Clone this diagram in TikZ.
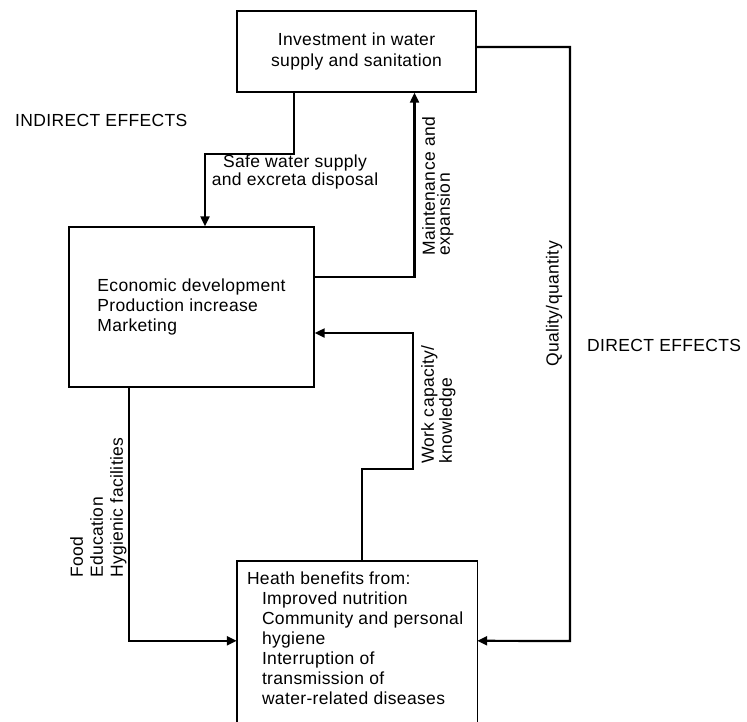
\documentclass[tikz,border=0pt]{standalone}
\usepackage{fontspec}
\setmainfont{Liberation Sans}[LetterSpace=2]
\usetikzlibrary{arrows.meta}
\newcommand{\txt}[1]{\fontsize{17.5}{#1}\selectfont}
\begin{document}
\begin{tikzpicture}[x=1pt,y=-1pt,
  every node/.style={inner sep=0pt, font=\txt{20}},
  box/.style={draw, line width=1.4pt},
  frame/.style={line width=1.4pt},
  link/.style={line width=2.2pt},
  arr/.style={link, -{Triangle[length=10pt,width=9pt]}}
]
\clip (0,0) rectangle (747,721);

% boxes
\node[box, minimum width=239pt, minimum height=81pt, align=center, font=\txt{21}]
  (invest) at (356.5,51.5) {Investment in water\\supply and sanitation};
\node[box, minimum width=245pt, minimum height=160pt, align=left]
  (econ) at (191.5,307) {Economic development\\Production increase\\Marketing};
\node[minimum width=240pt, minimum height=180pt] (health) at (357,651) {};
\draw[frame] (health.south west) -- (health.north west) -- (health.north east) -- (health.south east);
\node[anchor=north west, align=left] (healthtext) at ([xshift=10pt,yshift=-11pt]health.north west)
  {Heath benefits from:\\
   \hspace*{15pt}Improved nutrition\\
   \hspace*{15pt}Community and personal\\
   \hspace*{15pt}hygiene\\
   \hspace*{15pt}Interruption of\\
   \hspace*{15pt}transmission of\\
   \hspace*{15pt}water-related diseases};

% bend points
\coordinate (wk) at (413,469);
\coordinate (qq) at (570,641);

% connectors
\draw[arr] ([xshift=-62.5pt]invest.south) -- ++(0,61) -| ([xshift=13.5pt]econ.north);
\draw[arr] ([yshift=30pt]econ.east) -| ([xshift=58pt]invest.south);
\draw[arr] ([xshift=5pt]health.north) |- (wk) |- ([yshift=-26pt]econ.east);
\draw[arr] ([xshift=-62.5pt]econ.south) |- ([yshift=-80pt]health.north west);
\draw[arr] ([yshift=4.5pt]invest.east) -| (qq) -- ([yshift=-80pt]health.north east);

% labels
\node[anchor=west] (indirect) at (15,120) {INDIRECT EFFECTS};
\node[anchor=west] (direct) at (587,345) {DIRECT EFFECTS};
\node[align=center, font=\txt{16}] (safe) at (295,172) {Safe water supply\\and excreta disposal};
\node[rotate=90, anchor=north west, align=left, font=\txt{15}] (maint) at (422,256)
  {Maintenance and\\expansion};
\node[rotate=90, anchor=north west, align=left, font=\txt{18}] (work) at (421,464)
  {Work capacity/\\knowledge};
\node[rotate=90] (quality) at (554,304) {Quality/quantity};
\node[rotate=90, anchor=north west, align=left] (food) at (70,578)
  {Food\\Education\\Hygienic facilities};
\end{tikzpicture}
\end{document}
